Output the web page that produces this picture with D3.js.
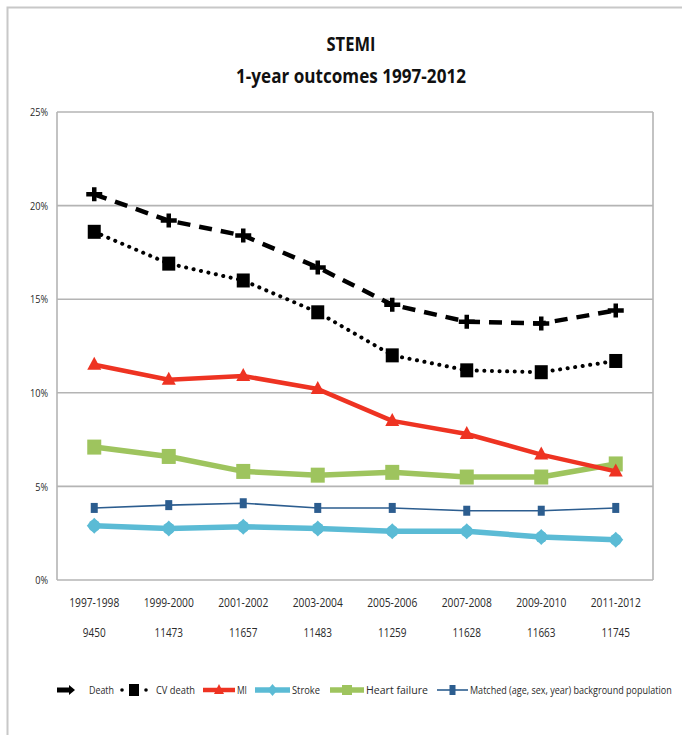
<!DOCTYPE html>
<html>
<head>
<meta charset="utf-8">
<script src="https://cdn.jsdelivr.net/npm/d3@7"></script>
<style>
  html, body { margin: 0; padding: 0; background: #fff; }
  svg text { font-family: "Open Sans", "Liberation Sans", sans-serif; }
</style>
</head>
<body>
<svg id="chart" width="682" height="735"></svg>
<script>
// Periods and the number of STEMI patients in each
const periods = ["1997-1998", "1999-2000", "2001-2002", "2003-2004", "2005-2006", "2007-2008", "2009-2010", "2011-2012"];
const patients = ["9450", "11473", "11657", "11483", "11259", "11628", "11663", "11745"];

// 1-year outcome rates (%)
const death     = [20.6, 19.2, 18.4, 16.7, 14.7, 13.8, 13.7, 14.4];
const cvDeath   = [18.6, 16.9, 16.0, 14.3, 12.0, 11.2, 11.1, 11.7];
const mi        = [11.5, 10.7, 10.9, 10.2, 8.5, 7.8, 6.7, 5.8];
const stroke    = [2.9, 2.75, 2.85, 2.75, 2.6, 2.6, 2.3, 2.15];
const heartFail = [7.1, 6.6, 5.8, 5.6, 5.75, 5.5, 5.5, 6.2];
const matched   = [3.85, 4.0, 4.1, 3.85, 3.85, 3.7, 3.7, 3.85];

const yTicks = [0, 5, 10, 15, 20, 25];

const series = [
  { name: "Death", values: death, color: "#000", width: 4.5, dash: "13,9", marker: "plus" },
  { name: "CV death", values: cvDeath, color: "#000", width: 4, dash: "0.1,7.5", cap: "round", marker: "square" },
  { name: "MI", values: mi, color: "#ee3322", width: 4.5, marker: "triangle" },
  { name: "Stroke", values: stroke, color: "#5bbbd5", width: 5.5, marker: "diamond" },
  { name: "Heart failure", values: heartFail, color: "#9ec45e", width: 5.5, marker: "bigsquare" },
  { name: "Matched (age, sex, year) background population", values: matched, color: "#2c5d8f", width: 1.6, marker: "small" }
];

const svg = d3.select("#chart");

// place a text at (x, y) and squeeze it horizontally by factor f (or to width w)
function placeNarrow(t, x, y, f, w) {
  t.attr("x", 0).attr("y", 0);
  const natural = t.node().getComputedTextLength();
  const k = w ? w / natural : f;
  t.attr("transform", `translate(${x},${y}) scale(${k},1)`);
}

// outer frame
svg.append("path")
  .attr("d", "M7.5,735 V7.5 H682")
  .attr("fill", "none").attr("stroke", "#c8c8c8").attr("stroke-width", 2);

const plot = { left: 57, right: 653, top: 112, bottom: 580 };

const x = d3.scaleBand().domain(periods).range([plot.left, plot.right]);
const y = d3.scaleLinear().domain([0, 25]).range([plot.bottom, plot.top]);

// title
const t1 = svg.append("text").attr("text-anchor", "middle")
  .attr("font-size", 19).attr("font-weight", "bold").attr("fill", "#111").text("STEMI");
placeNarrow(t1, 351, 51, null, 49);
const t2 = svg.append("text").attr("text-anchor", "middle")
  .attr("font-size", 19).attr("font-weight", "bold").attr("fill", "#111").text("1-year outcomes 1997-2012");
placeNarrow(t2, 351, 83, null, 230);

// gridlines
svg.append("g").selectAll("line").data(yTicks).join("line")
  .attr("x1", plot.left).attr("x2", plot.right)
  .attr("y1", d => y(d)).attr("y2", d => y(d))
  .attr("stroke", "#b4b4b4").attr("stroke-width", 1.6);

// plot border (left / right)
svg.append("line").attr("x1", plot.left).attr("x2", plot.left).attr("y1", plot.top).attr("y2", plot.bottom)
  .attr("stroke", "#b4b4b4").attr("stroke-width", 1.6);
svg.append("line").attr("x1", plot.right).attr("x2", plot.right).attr("y1", plot.top).attr("y2", plot.bottom)
  .attr("stroke", "#b4b4b4").attr("stroke-width", 1.6);

// y axis labels
const yAxis = d3.axisLeft(y).tickValues(yTicks).tickFormat(d => d + "%").tickSize(0).tickPadding(9);
const gy = svg.append("g").attr("transform", `translate(${plot.left},0)`).call(yAxis);
gy.select(".domain").remove();
gy.selectAll("text").attr("font-size", 11.5).attr("fill", "#2a2a2a")
  .style("font-family", '"Open Sans", sans-serif')
  .attr("x", -9 / 0.8).attr("transform", "scale(0.8,1)");

// x axis labels: periods and patient counts
const xAxis = d3.axisBottom(x).tickSize(0).tickPadding(0);
const gx = svg.append("g").attr("transform", `translate(0,${plot.bottom + 27})`).call(xAxis);
gx.select(".domain").remove();
gx.selectAll("text").attr("font-size", 12.5).attr("fill", "#2a2a2a").attr("dy", 0)
  .style("font-family", '"Open Sans", sans-serif')
  .attr("transform", "scale(0.82,1)");
svg.append("g").selectAll("text").data(patients).join("text")
  .attr("text-anchor", "middle").attr("font-size", 12.5).attr("fill", "#2a2a2a")
  .text(d => d)
  .each(function (d, i) {
    placeNarrow(d3.select(this), x(periods[i]) + x.bandwidth() / 2, plot.bottom + 57, 0.8);
  });

// marker shapes
function drawMarker(g, type, color, cx, cy) {
  if (type === "plus") {
    g.append("path").attr("d", `M${cx - 8},${cy} H${cx + 8} M${cx},${cy - 7} V${cy + 7}`)
      .attr("stroke", color).attr("stroke-width", 4.5).attr("fill", "none");
  } else if (type === "square") {
    g.append("rect").attr("x", cx - 6.5).attr("y", cy - 7).attr("width", 13).attr("height", 14).attr("fill", color);
  } else if (type === "bigsquare") {
    g.append("rect").attr("x", cx - 7).attr("y", cy - 7.5).attr("width", 14).attr("height", 15).attr("fill", color);
  } else if (type === "triangle") {
    g.append("path").attr("d", `M${cx},${cy - 8} L${cx + 7},${cy + 5} L${cx - 7},${cy + 5} Z`).attr("fill", color);
  } else if (type === "diamond") {
    g.append("path").attr("d", `M${cx},${cy - 8} L${cx + 7.5},${cy} L${cx},${cy + 8} L${cx - 7.5},${cy} Z`).attr("fill", color);
    g.append("circle").attr("cx", cx).attr("cy", cy).attr("r", 6).attr("fill", color);
  } else if (type === "small") {
    g.append("rect").attr("x", cx - 3.5).attr("y", cy - 5).attr("width", 7).attr("height", 10).attr("fill", color);
  }
}

const line = d3.line()
  .x((d, i) => x(periods[i]) + x.bandwidth() / 2)
  .y(d => y(d));

// draw lower series first so black lines sit on top
const order = [3, 4, 5, 2, 1, 0];
order.forEach(k => {
  const s = series[k];
  const g = svg.append("g");
  g.append("path").datum(s.values)
    .attr("d", line)
    .attr("fill", "none")
    .attr("stroke", s.color)
    .attr("stroke-width", s.width)
    .attr("stroke-linecap", s.cap || "butt")
    .attr("stroke-linejoin", "round")
    .attr("stroke-dasharray", s.dash || null);
  s.values.forEach((v, i) => drawMarker(g, s.marker, s.color, x(periods[i]) + x.bandwidth() / 2, y(v)));
});

// legend
const legendY = 690;
const legendItems = [
  { s: series[0], x0: 57, w: 18, tx: 89, tw: 25 },
  { s: series[1], x0: 121, w: 26, tx: 156, tw: 39 },
  { s: series[2], x0: 203, w: 32, tx: 237, tw: 10 },
  { s: series[3], x0: 255, w: 35, tx: 292, tw: 28 },
  { s: series[4], x0: 330, w: 34, tx: 366, tw: 62 },
  { s: series[5], x0: 437, w: 31, tx: 470, tw: 202 }
];
const lg = svg.append("g");
legendItems.forEach(it => {
  const s = it.s;
  const cx = it.x0 + it.w / 2;
  if (s.name === "Death") {
    lg.append("path").attr("d", `M${it.x0},${legendY} H${it.x0 + it.w - 4}`).attr("stroke", "#000").attr("stroke-width", 5);
    lg.append("path").attr("d", `M${it.x0 + it.w - 6},${legendY - 5} L${it.x0 + it.w},${legendY} L${it.x0 + it.w - 6},${legendY + 5} Z`).attr("fill", "#000");
  } else if (s.name === "CV death") {
    lg.append("circle").attr("cx", it.x0 + 1).attr("cy", legendY).attr("r", 1.8).attr("fill", "#000");
    lg.append("circle").attr("cx", it.x0 + it.w - 1).attr("cy", legendY).attr("r", 1.8).attr("fill", "#000");
    lg.append("rect").attr("x", cx - 5).attr("y", legendY - 6).attr("width", 10).attr("height", 12).attr("fill", "#000");
  } else {
    lg.append("line").attr("x1", it.x0).attr("x2", it.x0 + it.w).attr("y1", legendY).attr("y2", legendY)
      .attr("stroke", s.color).attr("stroke-width", s.width);
    if (s.marker === "small") {
      lg.append("rect").attr("x", cx - 3).attr("y", legendY - 5).attr("width", 6).attr("height", 10).attr("fill", s.color);
    } else if (s.marker === "triangle") {
      lg.append("path").attr("d", `M${cx},${legendY - 6} L${cx + 5},${legendY + 4} L${cx - 5},${legendY + 4} Z`).attr("fill", s.color);
    } else if (s.marker === "diamond") {
      lg.append("path").attr("d", `M${cx},${legendY - 6} L${cx + 5},${legendY} L${cx},${legendY + 6} L${cx - 5},${legendY} Z`).attr("fill", s.color);
    } else {
      lg.append("rect").attr("x", cx - 5).attr("y", legendY - 5).attr("width", 10).attr("height", 10).attr("fill", s.color);
    }
  }
  const t = lg.append("text").attr("font-size", 11.5).attr("fill", "#2a2a2a").text(s.name);
  placeNarrow(t, it.tx, legendY + 4, null, it.tw);
});
</script>
</body>
</html>
